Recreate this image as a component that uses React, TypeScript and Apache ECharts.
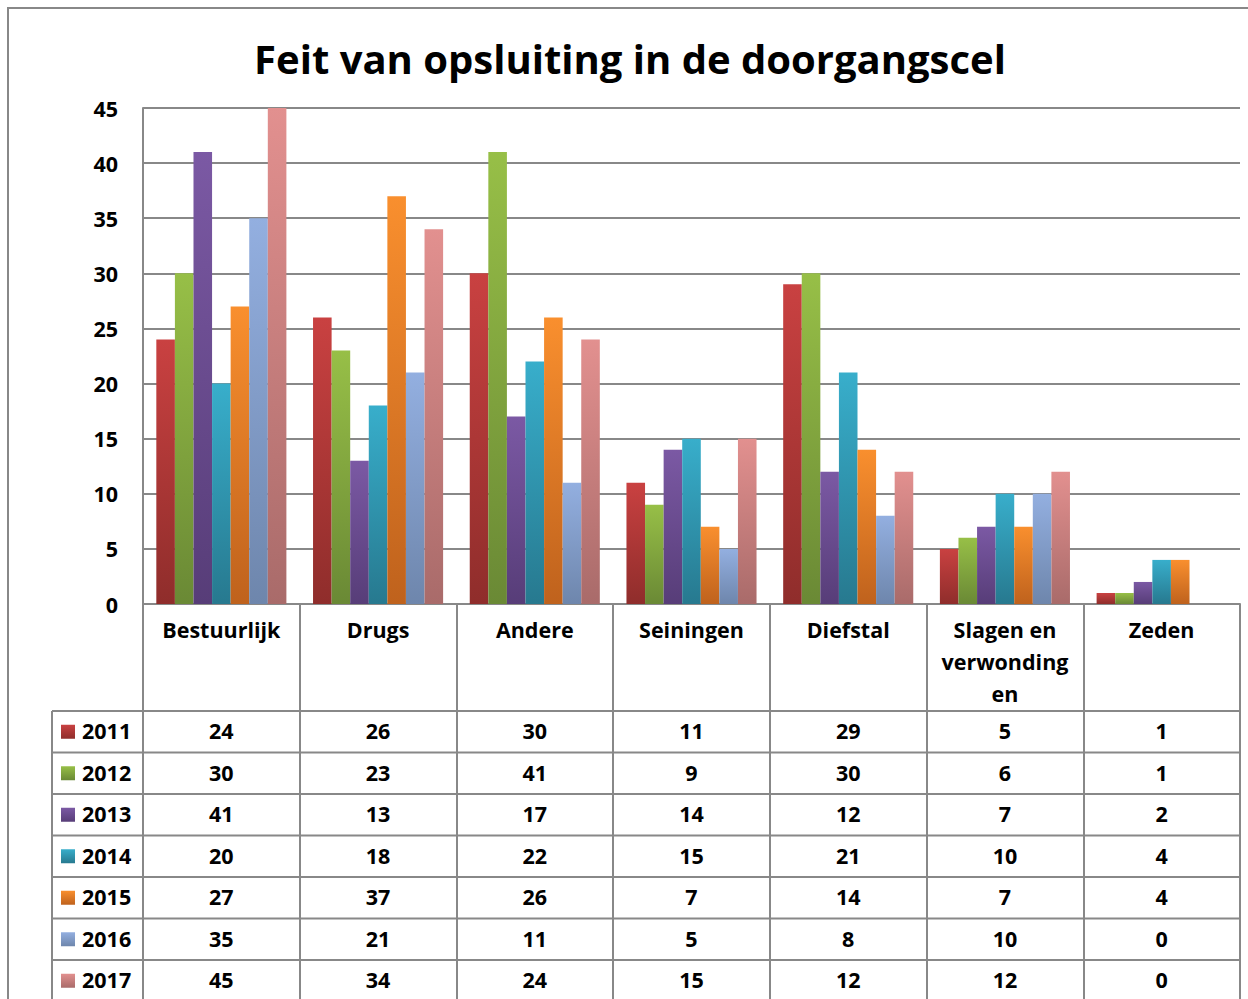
import React, { useEffect, useRef } from "react";
import * as echarts from "echarts";

const title = "Feit van opsluiting in de doorgangscel";
const categories = ["Bestuurlijk", "Drugs", "Andere", "Seiningen", "Diefstal", "Slagen en verwondingen", "Zeden"];
const years = ["2011", "2012", "2013", "2014", "2015", "2016", "2017"];
const v2011 = [24, 26, 30, 11, 29, 5, 1];
const v2012 = [30, 23, 41, 9, 30, 6, 1];
const v2013 = [41, 13, 17, 14, 12, 7, 2];
const v2014 = [20, 18, 22, 15, 21, 10, 4];
const v2015 = [27, 37, 26, 7, 14, 7, 4];
const v2016 = [35, 21, 11, 5, 8, 10, 0];
const v2017 = [45, 34, 24, 15, 12, 12, 0];
const seriesValues = [v2011, v2012, v2013, v2014, v2015, v2016, v2017];
const yTicks = { min: 0, max: 45, interval: 5 };

const colorsTop = ["#C94141", "#97BF47", "#7B59A4", "#38AECB", "#F98F2E", "#93AFE0", "#E2908F"];
const colorsBottom = ["#8F2D2B", "#6A8935", "#573D78", "#27798F", "#BF621D", "#6E86AC", "#A96B6A"];

const FONT = "'Open Sans', Lato, sans-serif";
const FS = 21.5;
const GRID_LEFT = 143;
const GRID_RIGHT_X = 1240;
const GRID_TOP = 108;
const GRID_BOTTOM_Y = 604;
const TABLE_TOP = 711;
const ROW_H = 41.5;
const TABLE_LEFT = 52;
const LINE = "#888888";

export default function App() {
  const ref = useRef<HTMLDivElement>(null);
  useEffect(() => {
    if (!ref.current) return;
    const chart = echarts.init(ref.current, undefined, { renderer: "svg" });
    const colW = (GRID_RIGHT_X - GRID_LEFT) / categories.length;
    const graphics: any[] = [];
    graphics.push({
      type: "rect",
      shape: { x: 8, y: 8, width: 1400, height: 1200 },
      style: { fill: "none", stroke: LINE, lineWidth: 2 },
      silent: true,
    });
    for (let i = 0; i <= years.length; i++) {
      const y = TABLE_TOP + i * ROW_H;
      graphics.push({
        type: "line",
        shape: { x1: TABLE_LEFT, y1: y, x2: GRID_RIGHT_X, y2: y },
        style: { stroke: LINE, lineWidth: 2 },
      });
    }
    graphics.push({
      type: "line",
      shape: { x1: TABLE_LEFT, y1: TABLE_TOP, x2: TABLE_LEFT, y2: 1010 },
      style: { stroke: LINE, lineWidth: 2 },
    });
    years.forEach((yr, i) => {
      const cy = TABLE_TOP + i * ROW_H + ROW_H / 2;
      graphics.push({
        type: "rect",
        shape: { x: 61, y: cy - 7, width: 14, height: 14 },
        style: {
          fill: new echarts.graphic.LinearGradient(0, 0, 0, 1, [
            { offset: 0, color: colorsTop[i] },
            { offset: 1, color: colorsBottom[i] },
          ]),
        },
      });
      graphics.push({
        type: "text",
        x: 82,
        y: cy - 1,
        style: {
          text: yr,
          fill: "#000",
          fontFamily: FONT,
          fontWeight: "bold",
          fontSize: FS,
          textAlign: "left",
          textVerticalAlign: "middle",
        },
      });
      seriesValues[i].forEach((v, j) => {
        graphics.push({
          type: "text",
          x: GRID_LEFT + colW * (j + 0.5),
          y: cy - 1,
          style: {
            text: String(v),
            fill: "#000",
            fontFamily: FONT,
            fontWeight: "bold",
            fontSize: FS,
            textAlign: "center",
            textVerticalAlign: "middle",
          },
        });
      });
    });
    graphics.push({
      type: "text",
      x: 630,
      y: 58,
      style: {
        text: title,
        fill: "#000",
        fontFamily: FONT,
        fontWeight: "bold",
        fontSize: 40,
        textAlign: "center",
        textVerticalAlign: "middle",
      },
    });

    chart.setOption({
      animation: false,
      backgroundColor: "#fff",
      grid: {
        left: GRID_LEFT,
        right: 1248 - GRID_RIGHT_X,
        top: GRID_TOP,
        bottom: 999 - GRID_BOTTOM_Y,
        containLabel: false,
      },
      xAxis: {
        type: "category",
        data: categories,
        axisLine: { show: true, lineStyle: { color: LINE, width: 2 } },
        axisTick: { show: true, interval: 0, length: 420, lineStyle: { color: LINE, width: 2 } },
        axisLabel: {
          interval: 0,
          margin: 9,
          color: "#000",
          fontFamily: FONT,
          fontWeight: "bold",
          fontSize: FS,
          lineHeight: 32,
          verticalAlign: "top",
          formatter: (v: string) => (v === "Slagen en verwondingen" ? "Slagen en\nverwonding\nen" : v),
        },
      },
      yAxis: {
        type: "value",
        min: yTicks.min,
        max: yTicks.max,
        interval: yTicks.interval,
        axisLine: { show: true, lineStyle: { color: LINE, width: 2 } },
        axisTick: { show: false },
        splitLine: { show: true, lineStyle: { color: LINE, width: 2 } },
        axisLabel: {
          margin: 25,
          color: "#000",
          fontFamily: FONT,
          fontWeight: "bold",
          fontSize: FS,
        },
      },
      series: years.map((yr, i) => ({
        name: yr,
        type: "bar",
        data: seriesValues[i],
        barGap: "0%",
        barCategoryGap: "17%",
        itemStyle: {
          color: new echarts.graphic.LinearGradient(0, 0, 0, 1, [
            { offset: 0, color: colorsTop[i] },
            { offset: 1, color: colorsBottom[i] },
          ]),
        },
      })),
      graphic: graphics,
    });
    return () => chart.dispose();
  }, []);
  return (
    <div
      ref={ref}
      style={{ position: "fixed", left: 0, top: 0, width: 1248, height: 999 }}
    />
  );
}
